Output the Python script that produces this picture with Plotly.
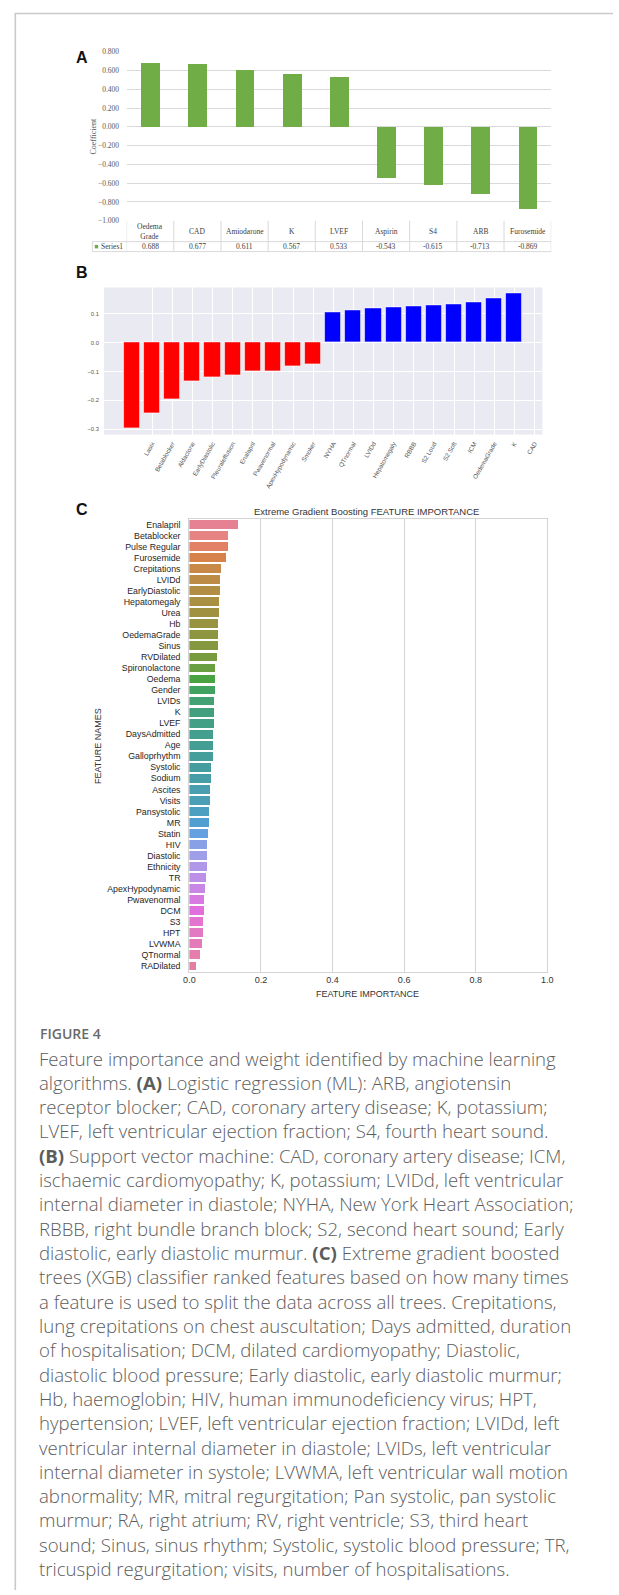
import math
import colorsys
import plotly.graph_objects as go

W, H = 619, 1595

# ---------------- Panel A: logistic regression coefficients ----------------
lr_features = ["Oedema\nGrade", "CAD", "Amiodarone", "K", "LVEF",
               "Aspirin", "S4", "ARB", "Furosemide"]
lr_coef = [0.688, 0.677, 0.611, 0.567, 0.533, -0.543, -0.615, -0.713, -0.869]
lr_ticks = [0.8, 0.6, 0.4, 0.2, 0.0, -0.2, -0.4, -0.6, -0.8, -1.0]
lr_series = "Series1"

# ---------------- Panel B: SVM weights ----------------
svm_labels = ["Lasix", "Betablocker", "Aldactone", "EarlyDiastolic", "Pleuraleffusion",
              "Enalapril", "Pwavenormal", "ApexHypodynamic", "Smoker", "NYHA",
              "QTnormal", "LVIDd", "Hepatomegaly", "RBBB", "S2 Loud",
              "S2 Soft", "ICM", "OedemaGrade", "K", "CAD"]
svm_coef = [-0.297, -0.244, -0.195, -0.133, -0.120, -0.112, -0.101, -0.100, -0.082, -0.076,
            0.104, 0.111, 0.119, 0.121, 0.124, 0.128, 0.131, 0.139, 0.154, 0.169]
svm_ticks = [0.1, 0.0, -0.1, -0.2, -0.3]

# ---------------- Panel C: XGBoost feature importance ----------------
xgb_features = ["Enalapril", "Betablocker", "Pulse Regular", "Furosemide", "Crepitations",
                "LVIDd", "EarlyDiastolic", "Hepatomegaly", "Urea", "Hb",
                "OedemaGrade", "Sinus", "RVDilated", "Spironolactone", "Oedema",
                "Gender", "LVIDs", "K", "LVEF", "DaysAdmitted",
                "Age", "Galloprhythm", "Systolic", "Sodium", "Ascites",
                "Visits", "Pansystolic", "MR", "Statin", "HIV",
                "Diastolic", "Ethnicity", "TR", "ApexHypodynamic", "Pwavenormal",
                "DCM", "S3", "HPT", "LVWMA", "QTnormal", "RADilated"]
xgb_importance = [0.138, 0.109, 0.108, 0.102, 0.089,
                  0.087, 0.087, 0.084, 0.084, 0.082,
                  0.082, 0.080, 0.079, 0.073, 0.073,
                  0.073, 0.071, 0.069, 0.069, 0.068,
                  0.066, 0.066, 0.062, 0.062, 0.060,
                  0.059, 0.057, 0.055, 0.052, 0.050,
                  0.050, 0.050, 0.048, 0.044, 0.041,
                  0.041, 0.039, 0.039, 0.037, 0.030, 0.019]
xgb_ticks = [0.0, 0.2, 0.4, 0.6, 0.8, 1.0]

caption_title = "FIGURE 4"
caption_lines = [
    "Feature importance and weight identified by machine learning",
    "algorithms. <b>(A)</b> Logistic regression (ML): ARB, angiotensin",
    "receptor blocker; CAD, coronary artery disease; K, potassium;",
    "LVEF, left ventricular ejection fraction; S4, fourth heart sound.",
    "<b>(B)</b> Support vector machine: CAD, coronary artery disease; ICM,",
    "ischaemic cardiomyopathy; K, potassium; LVIDd, left ventricular",
    "internal diameter in diastole; NYHA, New York Heart Association;",
    "RBBB, right bundle branch block; S2, second heart sound; Early",
    "diastolic, early diastolic murmur. <b>(C)</b> Extreme gradient boosted",
    "trees (XGB) classifier ranked features based on how many times",
    "a feature is used to split the data across all trees. Crepitations,",
    "lung crepitations on chest auscultation; Days admitted, duration",
    "of hospitalisation; DCM, dilated cardiomyopathy; Diastolic,",
    "diastolic blood pressure; Early diastolic, early diastolic murmur;",
    "Hb, haemoglobin; HIV, human immunodeficiency virus; HPT,",
    "hypertension; LVEF, left ventricular ejection fraction; LVIDd, left",
    "ventricular internal diameter in diastole; LVIDs, left ventricular",
    "internal diameter in systole; LVWMA, left ventricular wall motion",
    "abnormality; MR, mitral regurgitation; Pan systolic, pan systolic",
    "murmur; RA, right atrium; RV, right ventricle; S3, third heart",
    "sound; Sinus, sinus rhythm; Systolic, systolic blood pressure; TR,",
    "tricuspid regurgitation; visits, number of hospitalisations.",
]


# ---------------- HUSL palette (as used by seaborn) ----------------
_M = [[3.240969941904521, -1.537383177570093, -0.498610760293],
      [-0.96924363628087, 1.87596750150772, 0.041555057407175],
      [0.055630079696993, -0.20397695888897, 1.056971514242878]]
_REF_U, _REF_V = 0.19783000664283, 0.46831999493879
_KAPPA, _EPS = 903.2962962, 0.0088564516


def _max_chroma(L, Hh):
    hrad = math.radians(Hh)
    sinH, cosH = math.sin(hrad), math.cos(hrad)
    sub1 = (L + 16) ** 3 / 1560896.0
    sub2 = sub1 if sub1 > _EPS else L / _KAPPA
    best = float("inf")
    for m1, m2, m3 in _M:
        top = (0.99915 * m1 + 1.05122 * m2 + 1.14460 * m3) * sub2
        rbottom = 0.86330 * m3 - 0.17266 * m2
        lbottom = 0.12949 * m3 - 0.38848 * m1
        bottom = (rbottom * sinH + lbottom * cosH) * sub2
        for t in (0.0, 1.0):
            c = L * (top - 1.05122 * t) / (bottom + 0.17266 * sinH * t)
            if 0 < c < best:
                best = c
    return best


def _from_linear(c):
    if c <= 0.0031308:
        return 12.92 * c
    return 1.055 * c ** (1 / 2.4) - 0.055


def husl_to_rgb(h, s, l):
    c = _max_chroma(l, h) / 100.0 * s
    u = c * math.cos(math.radians(h))
    v = c * math.sin(math.radians(h))
    t = (l + 16) / 116.0
    y = t ** 3 if t ** 3 > _EPS else (116 * t - 16) / _KAPPA
    var_u = u / (13 * l) + _REF_U
    var_v = v / (13 * l) + _REF_V
    x = -(9 * y * var_u) / ((var_u - 4) * var_v - var_u * var_v)
    z = (9 * y - 15 * var_v * y - var_v * x) / (3 * var_v)
    rgb = [_from_linear(r[0] * x + r[1] * y + r[2] * z) for r in _M]
    return [min(max(ch, 0.0), 1.0) for ch in rgb]


def husl_palette(n, h=0.01, s=0.9, l=0.65, desat=0.75):
    cols = []
    for i in range(n):
        hue = ((i / n + h) % 1.0) * 359
        r, g, b = husl_to_rgb(hue, s * 99, l * 99)
        hh, ll, ss = colorsys.rgb_to_hls(r, g, b)
        r, g, b = colorsys.hls_to_rgb(hh, ll, ss * desat)
        cols.append("rgb(%d,%d,%d)" % (round(r * 255), round(g * 255), round(b * 255)))
    return cols


def fx(px):
    return px / W


def fy(py):
    return 1 - py / H


def label(x, y, text, size, color, family, xanchor="center", angle=0, weight=None, xref="paper"):
    font = dict(family=family, size=size, color=color)
    if weight is not None:
        font["weight"] = weight
    return dict(x=x, xref=xref, y=fy(y), yref="paper", text=text, showarrow=False,
                xanchor=xanchor, yanchor="middle", textangle=angle, font=font)


SERIF = "Liberation Serif"
SANS = "Liberation Sans"

fig = go.Figure()

# Panel A bars
fig.add_trace(go.Bar(x=list(range(len(lr_coef))), y=lr_coef, width=0.4,
                     marker=dict(color="#70AD47", line=dict(width=0)),
                     xaxis="x", yaxis="y", showlegend=False, hoverinfo="skip"))

# Panel B bars
svm_colors = ["#FF0000" if v < 0 else "#0000FF" for v in svm_coef]
fig.add_trace(go.Bar(x=list(range(len(svm_coef))), y=svm_coef, width=0.8,
                     marker=dict(color=svm_colors, line=dict(color="rgba(255,255,255,0.55)", width=1)),
                     xaxis="x2", yaxis="y2", showlegend=False, hoverinfo="skip"))

# Panel C bars
fig.add_trace(go.Bar(y=xgb_features, x=xgb_importance, orientation="h", width=0.8,
                     marker=dict(color=husl_palette(len(xgb_features)), line=dict(width=0)),
                     xaxis="x3", yaxis="y3", showlegend=False, hoverinfo="skip"))

shapes = []
annotations = []

# Outer frame (top and left rules)
shapes.append(dict(type="line", xref="paper", yref="paper", x0=fx(9), x1=1.0, y0=fy(9.5), y1=fy(9.5),
                   line=dict(color="#c9c9c9", width=1.6)))
shapes.append(dict(type="line", xref="paper", yref="paper", x0=fx(9.5), x1=fx(9.5), y0=fy(9), y1=0,
                   line=dict(color="#c9c9c9", width=1.6)))

# ---- Panel A data table ----
tbl_col = "#d9d9d9"
row1_top, row1_bot, row2_bot = 218, 239, 249
left_key = 88
for yy in (row1_bot, row2_bot):
    shapes.append(dict(type="line", xref="paper", yref="paper", x0=fx(left_key), x1=fx(556),
                       y0=fy(yy), y1=fy(yy), line=dict(color=tbl_col, width=1)))
for k in range(len(lr_features) + 1):
    shapes.append(dict(type="line", xref="x", yref="paper", x0=k - 0.5, x1=k - 0.5,
                       y0=fy(row1_top), y1=fy(row2_bot), line=dict(color=tbl_col, width=1)))
shapes.append(dict(type="line", xref="paper", yref="paper", x0=fx(left_key), x1=fx(left_key),
                   y0=fy(row1_bot), y1=fy(row2_bot), line=dict(color=tbl_col, width=1)))
for i, (name, val) in enumerate(zip(lr_features, lr_coef)):
    annotations.append(label(i, (row1_top + row1_bot) / 2 + 0.5, name.replace("\n", "<br>"),
                             7.5, "#404040", SERIF, xref="x"))
    annotations.append(label(i, (row1_bot + row2_bot) / 2 + 0.3, "%.3f" % val,
                             7.5, "#404040", SERIF, xref="x"))
# legend key of the table
shapes.append(dict(type="rect", xref="paper", yref="paper", x0=fx(90.5), x1=fx(94), y0=fy(245.8),
                   y1=fy(242.3), fillcolor="#70AD47", line=dict(width=0)))
annotations.append(label(fx(95), 244.3, lr_series, 7.5, "#404040", SERIF, xanchor="left"))
annotations.append(label(fx(89), 133, "Coefficient", 8, "#595959", SERIF, angle=-90))

# ---- Panel B background ----
shapes.append(dict(type="rect", xref="x2 domain", yref="y2 domain", x0=0, x1=1, y0=0, y1=1,
                   fillcolor="#EAEAF2", line=dict(width=0), layer="below"))

# ---- Panel C titles ----
annotations.append(label(fx(368), 510, "Extreme Gradient Boosting FEATURE IMPORTANCE",
                         9.5, "#333333", SANS))
annotations.append(label(fx(369), 996, "FEATURE IMPORTANCE", 9, "#333333", SANS))
annotations.append(label(fx(94), 746, "FEATURE NAMES", 9, "#333333", SANS, angle=-90))

# Panel letters
for letter, (lx, ly) in {"A": (78, 54), "B": (77, 270), "C": (78, 508)}.items():
    annotations.append(label(fx(lx), ly, "<b>%s</b>" % letter, 16, "#111111", SANS))

# ---- Caption ----
annotations.append(label(fx(33), 1035, caption_title, 14, "#6a6a6a", "Open Sans",
                         xanchor="left", weight=600))
for j, line in enumerate(caption_lines):
    annotations.append(label(fx(32), 1060 + j * 24.45, line, 18.6, "#5c5c5c", "Open Sans",
                             xanchor="left", weight=300))

fig.update_layout(
    width=W, height=H,
    margin=dict(l=0, r=0, t=0, b=0),
    paper_bgcolor="white", plot_bgcolor="white",
    bargap=0,
    showlegend=False,
    shapes=shapes, annotations=annotations,
    xaxis=dict(domain=[fx(123), fx(556)], range=[-0.5, len(lr_coef) - 0.5], anchor="y",
               showticklabels=False, showgrid=False, zeroline=False, showline=False, ticks=""),
    yaxis=dict(domain=[fy(218), fy(48)], range=[-1.0, 0.8], anchor="x",
               tickvals=lr_ticks, tickformat=".3f", showgrid=True, gridcolor="#d9d9d9",
               gridwidth=1, zeroline=False, showline=False, ticks="outside", ticklen=5,
               tickcolor="rgba(0,0,0,0)",
               tickfont=dict(family=SERIF, size=7.5, color="#595959")),
    xaxis2=dict(domain=[fx(100), fx(547)], range=[-1.39, 20.39], anchor="y2",
                tickvals=list(range(1, len(svm_labels) + 1)), ticktext=svm_labels, tickangle=-60,
                showgrid=True, gridcolor="white", gridwidth=1, zeroline=False, showline=False,
                ticks="outside", ticklen=2, tickcolor="rgba(0,0,0,0)",
                tickfont=dict(family=SANS, size=6.3, color="#555555")),
    yaxis2=dict(domain=[fy(433), fy(285)], range=[-0.318, 0.191], anchor="x2",
                tickvals=svm_ticks, tickformat=".1f", showgrid=True, gridcolor="white", gridwidth=1,
                zeroline=False, showline=False, ticks="outside", ticklen=3, tickcolor="rgba(0,0,0,0)",
                tickfont=dict(family=SANS, size=5.8, color="#555555")),
    xaxis3=dict(domain=[fx(187), fx(552)], range=[0, 1], anchor="y3",
                tickvals=xgb_ticks, tickformat=".1f", showgrid=True, gridcolor="#d4d4d4", gridwidth=1.2,
                zeroline=False, showline=True, linecolor="#d4d4d4", linewidth=1.2, mirror=True,
                ticks="", tickfont=dict(family=SANS, size=9, color="#333333")),
    yaxis3=dict(domain=[fy(973), fy(518)], range=[len(xgb_features) - 0.5, -0.5], anchor="x3",
                type="category", categoryorder="array", categoryarray=xgb_features,
                showgrid=False, zeroline=False, showline=True, linecolor="#d4d4d4", linewidth=1.2,
                mirror=True, ticks="outside", ticklen=6, tickcolor="rgba(0,0,0,0)",
                tickfont=dict(family=SANS, size=8.8, color="#262626")),
)

fig.write_html("out.html")
